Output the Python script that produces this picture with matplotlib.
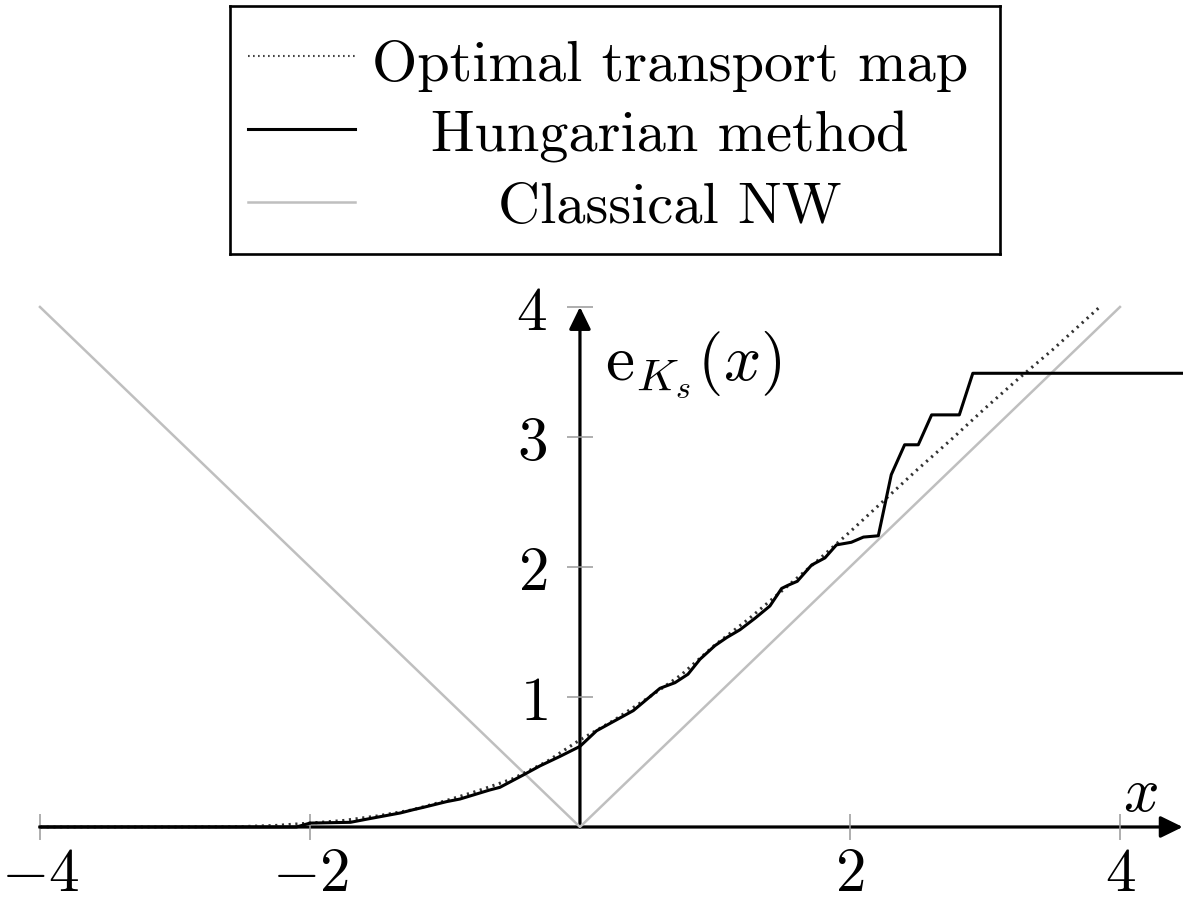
import matplotlib
matplotlib.use("Agg")
import matplotlib.pyplot as plt

plt.rcParams["mathtext.fontset"] = "cm"
plt.rcParams["font.family"] = "serif"
plt.rcParams["font.serif"] = ["cmr10", "DejaVu Serif"]
plt.rcParams["axes.unicode_minus"] = False

# -------- data --------
nw_x = [-4.0, 0.0, 4.0]
nw_y = [4.0, 0.0, 4.0]

ot_x = [-4.0, -3.0, -2.5, -2.25, -2.0, -1.75, -1.5, -1.25, -1.0, -0.75, -0.5, -0.25,
        0.0, 0.25, 0.5, 0.75, 1.0, 1.25, 1.5, 1.75, 2.0, 2.25, 2.5, 2.75, 3.0, 3.25, 3.5, 3.85]
ot_y = [0.0, 0.0, 0.003, 0.012, 0.03, 0.05, 0.085, 0.13, 0.2, 0.28, 0.37, 0.5,
        0.67, 0.82, 0.99, 1.17, 1.40, 1.60, 1.82, 2.04, 2.27, 2.51, 2.75, 2.98, 3.22, 3.45, 3.67, 4.0]

hu_x = [-4.0, -2.1, -2.0, -1.7, -1.58, -1.33, -1.235, -1.16, -0.988, -0.889, -0.667, -0.593,
        -0.42, -0.296, -0.148, 0.0, 0.123, 0.395, 0.593, 0.704, 0.80, 0.889, 1.0, 1.087,
        1.185, 1.296, 1.407, 1.494, 1.543, 1.61, 1.716, 1.815, 1.90, 2.01, 2.10, 2.21,
        2.306, 2.405, 2.506, 2.605, 2.81, 2.91, 4.5]
hu_y = [0.0, 0.0, 0.03, 0.036, 0.06, 0.108, 0.133, 0.151, 0.195, 0.215, 0.285, 0.305,
        0.40, 0.47, 0.543, 0.62, 0.74, 0.895, 1.067, 1.11, 1.175, 1.29, 1.395, 1.457,
        1.517, 1.605, 1.70, 1.835, 1.86, 1.89, 2.015, 2.07, 2.17, 2.19, 2.23, 2.24,
        2.71, 2.94, 2.94, 3.17, 3.17, 3.49, 3.49]

xticks = [-4, -2, 2, 4]
yticks = [1, 2, 3, 4]
legend_labels = ["Optimal transport map", "Hungarian method", "Classical NW"]

# -------- plot --------
fig = plt.figure(figsize=(11.83, 9.03), dpi=100)
ax = fig.add_axes([0, 0, 1, 1])
ax.set_xlim(-4.296, 4.467)
ax.set_ylim(-0.577, 6.369)

ax.plot(nw_x, nw_y, color="#bfbfbf", lw=1.8, zorder=2)
ax.plot(ot_x, ot_y, color="#333333", lw=2.2, linestyle=(0, (0.7, 1.5)), zorder=3)
ax.plot(hu_x, hu_y, color="black", lw=2.2, zorder=4)

for s in ["top", "right"]:
    ax.spines[s].set_visible(False)
ax.spines["bottom"].set_position(("data", 0))
ax.spines["left"].set_position(("data", 0))
ax.spines["bottom"].set_color("none")
ax.spines["left"].set_color("none")

arrow = dict(arrowstyle="-|>,head_length=0.45,head_width=0.22", color="black",
             lw=2.3, mutation_scale=30, shrinkA=0, shrinkB=0)
ax.annotate("", xy=(4.465, 0), xytext=(-4.0, 0), arrowprops=arrow, zorder=1)
ax.annotate("", xy=(0, 4.0), xytext=(0, 0), arrowprops=arrow, zorder=1)

ax.set_xticks(xticks)
ax.set_xticklabels([r"$%d$" % t for t in xticks])
ax.set_yticks(yticks)
ax.set_yticklabels([r"$%d$" % t for t in yticks])
ax.tick_params(axis="both", direction="inout", length=19, width=1.1, color="#999999",
               labelsize=44)
ax.tick_params(axis="x", pad=5)
ax.tick_params(axis="y", pad=14)

ax.text(0.185, 3.56, r"$\mathrm{e}_{K_s}(x)$", fontsize=47, ha="left", va="center")
ax.text(4.15, 0.25, r"$x$", fontsize=45, ha="center", va="center")

# -------- legend box --------
lax = fig.add_axes([0.1944, 0.7176, 0.6509, 0.2746])
lax.set_xlim(0, 1)
lax.set_ylim(0, 1)
lax.set_xticks([])
lax.set_yticks([])
for s in lax.spines.values():
    s.set_linewidth(1.9)

row_y = [0.80, 0.506, 0.21]
text_y = [0.70, 0.418, 0.128]
styles = [dict(color="#444444", lw=1.5, linestyle=(0, (0.8, 1.6))),
          dict(color="black", lw=2.2),
          dict(color="#bfbfbf", lw=1.8)]
for lab, ly, ty, st in zip(legend_labels, row_y, text_y, styles):
    lax.plot([0.023, 0.162], [ly, ly], **st)
    lax.text(0.571, ty, lab, fontsize=42, ha="center", va="baseline", family="cmr10")

fig.savefig("out.png", dpi=100)
